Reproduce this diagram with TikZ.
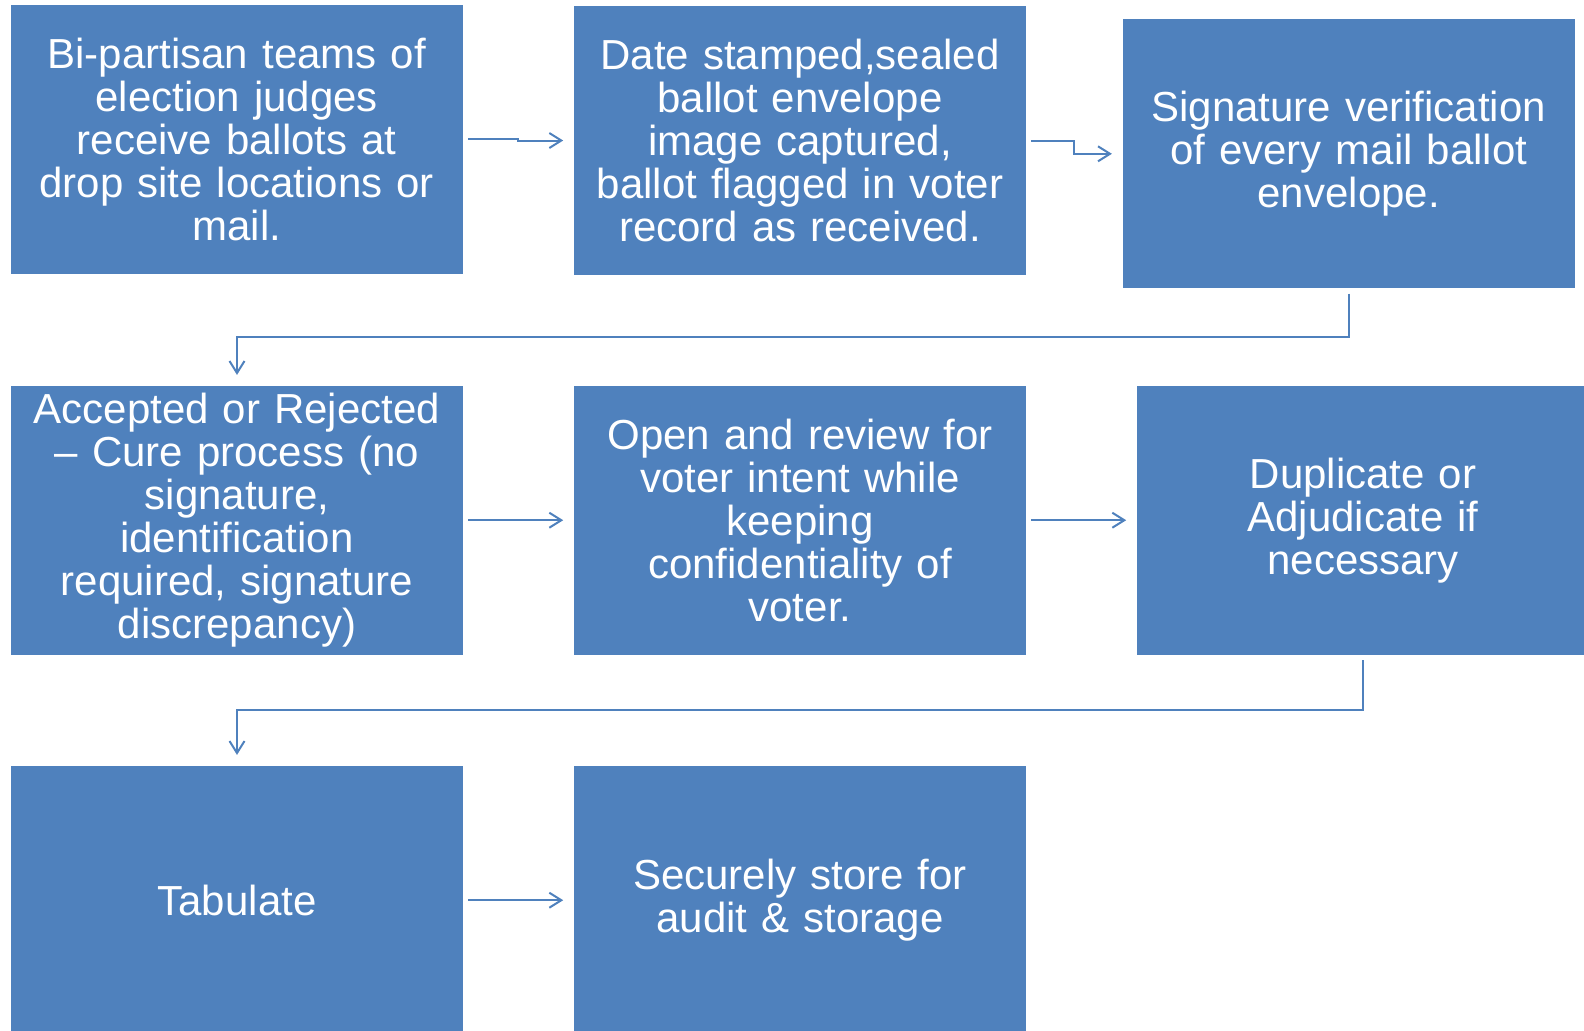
\documentclass[tikz,border=0pt]{standalone}
\usepackage{fontspec}
\setmainfont{Liberation Sans}
\usetikzlibrary{arrows.meta,calc}
\definecolor{boxblue}{HTML}{4F81BD}
\tikzset{
  process box/.style={fill=boxblue, text=white, inner sep=0pt,
    minimum width=226pt, minimum height=134.5pt, text width=222pt, align=center,
    font=\fontsize{21pt}{21.5pt}\selectfont},
  flow line/.style={draw=boxblue, line width=1pt,
    -{Straight Barb[length=6pt,width=7.5pt]}, shorten <=2.5pt, shorten >=5.2pt}
}

\begin{document}
\begin{tikzpicture}[x=0.5pt,y=-0.5pt]
  \useasboundingbox (0,0) rectangle (1584,1030);

  \node[process box] (receive) at (236.7,139) {Bi-partisan teams of\\election judges\\receive ballots at\\drop site locations or\\mail.};
  \node[process box] (stamp) at (800,140.5) {Date stamped,sealed\\ballot envelope\\image captured,\\ballot flagged in voter\\record as received.};
  \node[process box] (verify) at (1348.7,153.8) {Signature verification\\of every mail ballot\\envelope.};

  \node[process box] (accept) at (237,520.2) {Accepted or Rejected\\– Cure process (no\\signature,\\identification\\required, signature\\discrepancy)};
  \node[process box] (review) at (800,520.2) {Open and review for\\voter intent while\\keeping\\confidentiality of\\voter.};
  \node[process box] (adjud) at (1363,520.2) {Duplicate or\\Adjudicate if\\necessary};

  \node[process box] (tab) at (237,900.2) {Tabulate};
  \node[process box] (store) at (800,900.2) {Securely store for\\audit \& storage};

  \draw[flow line] (receive.east) -| ($(receive.east)!0.5!(stamp.west)$) |- (stamp.west);
  \draw[flow line] (stamp.east) -| ($(stamp.east)!0.5!(verify.west)$) |- (verify.west);
  \draw[flow line] (verify.south) |- ($(verify.south)!0.5!(accept.north)$) -| (accept.north);
  \draw[flow line] (accept) -- (review);
  \draw[flow line] (review) -- (adjud);
  \draw[flow line] (adjud.south) |- ($(adjud.south)!0.5!(tab.north)$) -| (tab.north);
  \draw[flow line] (tab) -- (store);
\end{tikzpicture}
\end{document}
